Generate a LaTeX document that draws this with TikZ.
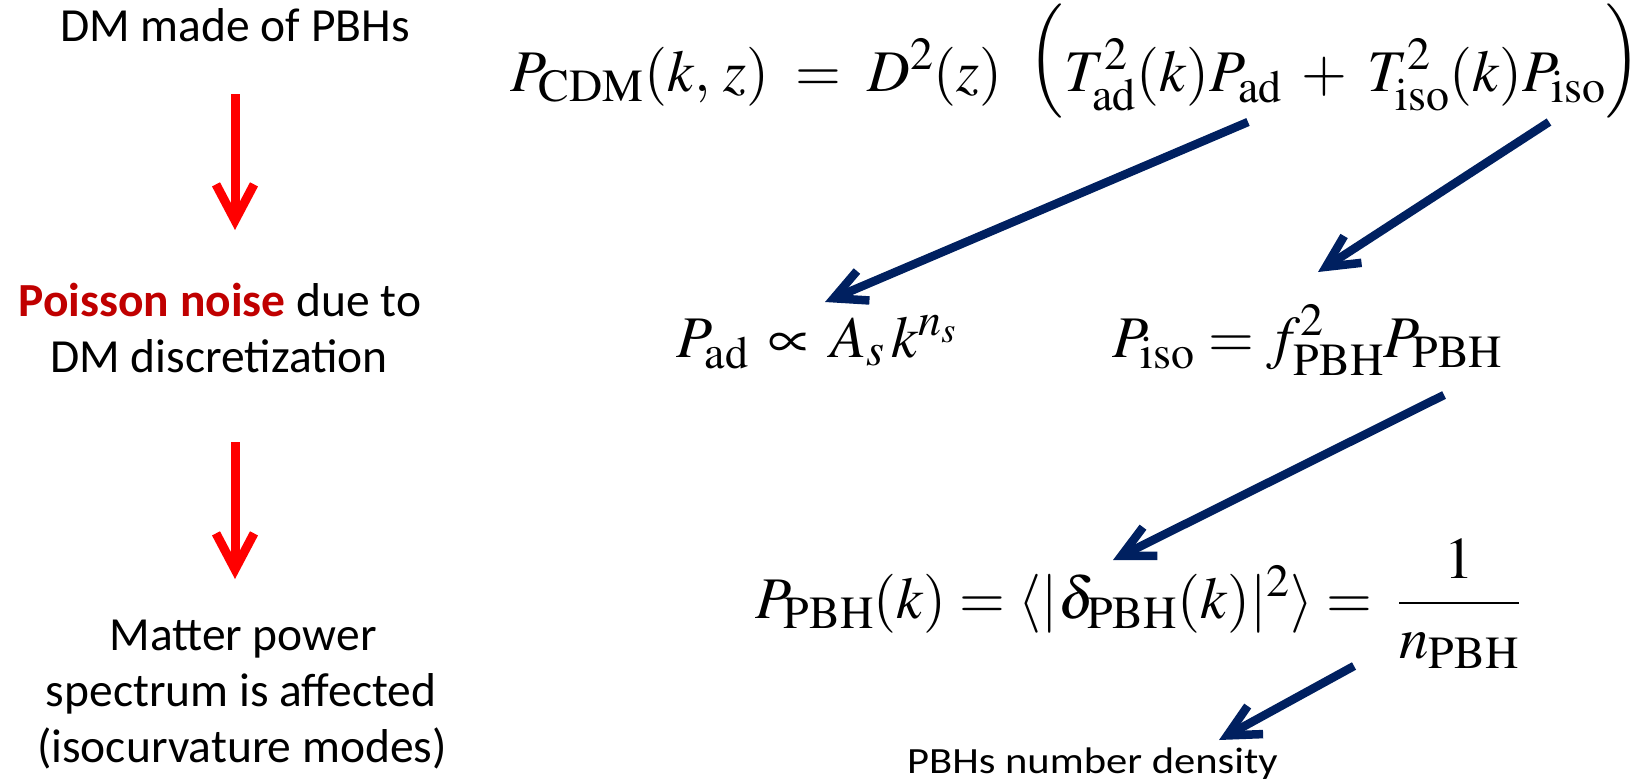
\documentclass[tikz,border=0pt]{standalone}
\usepackage{mathptmx}
\usepackage[no-math]{fontspec}
\newfontfamily\cali{Carlito}
\usetikzlibrary{arrows.meta}
\DeclareMathSizes{59}{59}{46}{36}
\definecolor{navy}{HTML}{002060}
\definecolor{pred}{HTML}{FF0000}
\definecolor{dred}{HTML}{C00000}
\newcommand{\mlp}{\mathopen{\raisebox{15pt}{$\vcenter{\hbox{\scalebox{1}[1.075]{$\Bigl($}}}$}}}
\newcommand{\mrp}{\mathclose{\raisebox{15pt}{$\vcenter{\hbox{\scalebox{1}[1.075]{$\Bigr)$}}}$}}}
\begin{document}
\begin{tikzpicture}[x=1pt,y=-1pt,
  lbl/.style={font=\cali\fontsize{47.5}{57}\selectfont, inner sep=0, anchor=base},
  eq/.style={font=\fontsize{59}{70}\selectfont, inner sep=0, anchor=base west},
  small/.style={font=\cali\fontsize{37}{44}\selectfont, inner sep=0, anchor=base west},
  redarrow/.style={draw=pred, line width=9pt, -{Straight Barb[length=36pt,width=38pt]}},
  navyarrow/.style={draw=navy, line width=8.5pt, -{Straight Barb[length=32pt,width=32pt]}},
]
\useasboundingbox (0,0) rectangle (1641,782);
% left column
\node[lbl] (t1) at (235,41.5) {DM made of PBHs};
\node[lbl] (t2a) at (220,316) {{\bfseries\color{dred}Poisson noise} due to};
\node[lbl] (t2b) at (219,372) {DM discretization};
\node[lbl] (t3a) at (243,650) {Matter power};
\node[lbl] (t3b) at (241,706) {spectrum is affected};
\node[lbl] (t3c) at (242,762) {(isocurvature modes)};
\coordinate (r1s) at (235,94);
\coordinate (r1e) at (235,230);
\coordinate (r2s) at (235,442);
\coordinate (r2e) at (235,579);
\draw[redarrow] (r1s) -- (r1e);
\draw[redarrow] (r2s) -- (r2e);
% equations
\node[eq] (e1) at (510,91) {\thickmuskip=8mu\medmuskip=6mu $P_{\mathrm{CDM}}(k,\,z) = D^2(z)\mkern8mu\mlp T^2_{\mathrm{ad}}(k)P_{\mathrm{ad}} + T^2_{\mathrm{iso}}(k)P_{\mathrm{iso}}\mrp$};
\node[eq] (e2) at (676,357) {$P_{\mathrm{ad}} \mathrel{\,\propto\,} A_s\,k^{n_s}$};
\node[eq] (e3) at (1112,357) {$P_{\mathrm{iso}} = f^2_{\mathrm{PBH}}P_{\mathrm{PBH}}$};
\node[eq] (e4) at (755,618) {$P_{\mathrm{PBH}}(k) = \langle|\delta_{\mathrm{PBH}}(k)|^2\rangle = \;{\displaystyle\frac{1}{n_{\mathrm{PBH}}}}$};
\node[small] (lab) at (907,773) {\scalebox{1.15}[1]{PBHs number density}};
% navy arrows
\coordinate (a1s) at (1248,122);
\coordinate (a1e) at (825,302);
\coordinate (a2s) at (1549,122);
\coordinate (a2e) at (1318,272);
\coordinate (a3s) at (1444,395);
\coordinate (a3e) at (1113,560);
\coordinate (a4s) at (1354,666);
\coordinate (a4e) at (1219,740);
\draw[navyarrow] (a1s) -- (a1e);
\draw[navyarrow] (a2s) -- (a2e);
\draw[navyarrow] (a3s) -- (a3e);
\draw[navyarrow] (a4s) -- (a4e);
\end{tikzpicture}
\end{document}
